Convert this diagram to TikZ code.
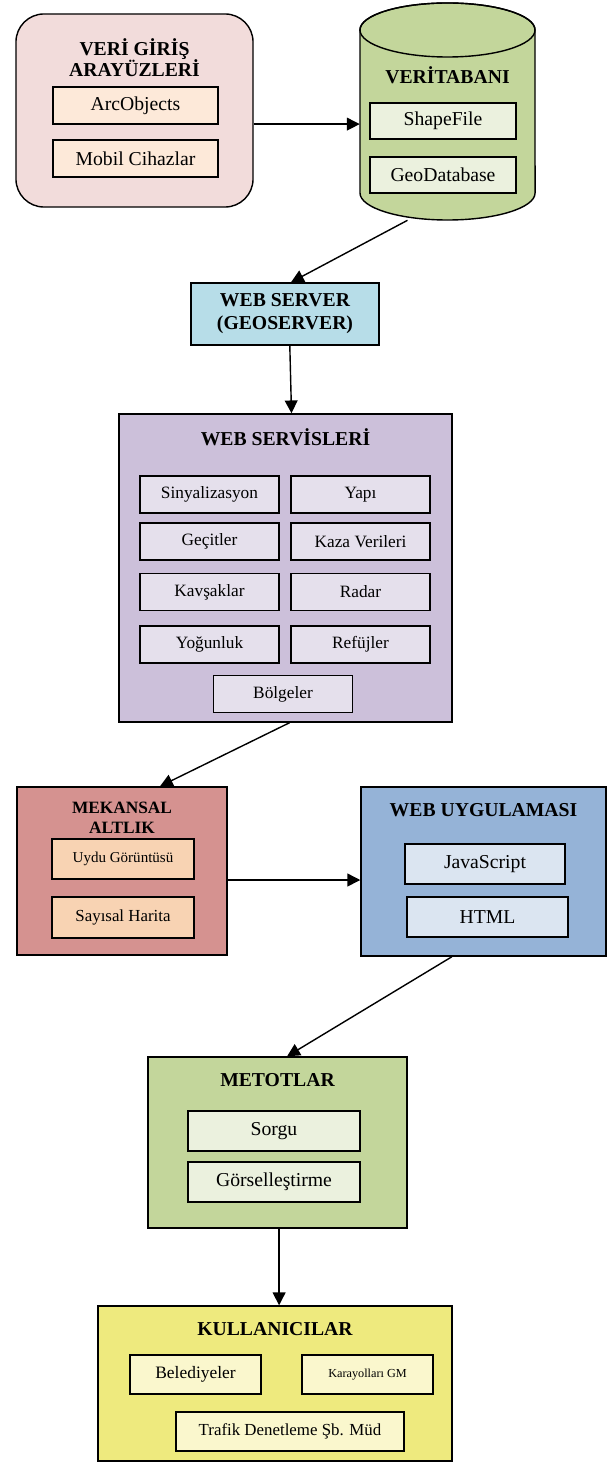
\documentclass[tikz,border=0pt]{standalone}
\usepackage{fontspec}
\setmainfont{Liberation Serif}
\usetikzlibrary{arrows.meta}

\definecolor{veripink}{HTML}{F2DCDB}
\definecolor{veripeach}{HTML}{FDE9D9}
\definecolor{dbgreen}{HTML}{C3D69B}
\definecolor{dblight}{HTML}{EBF1DE}
\definecolor{servblue}{HTML}{B7DDE8}
\definecolor{servlav}{HTML}{CCC0DA}
\definecolor{lavlight}{HTML}{E5E0EC}
\definecolor{mekrose}{HTML}{D59290}
\definecolor{mekpeach}{HTML}{F8D3B3}
\definecolor{appblue}{HTML}{95B3D7}
\definecolor{applight}{HTML}{DBE5F1}
\definecolor{kulyellow}{HTML}{EEEA7E}
\definecolor{kullight}{HTML}{FAF7CD}

\tikzset{
  mainbox/.style={draw, line width=1pt, rectangle, inner sep=0pt},
  subbox/.style={draw, line width=1pt, rectangle, inner sep=0pt, font=\fontsize{14}{16}\selectfont},
  boxtitle/.style={font=\fontsize{14}{15}\selectfont\bfseries, align=center, inner sep=0pt},
  arr/.style={line width=1pt, -{Triangle[length=0.32cm,width=0.32cm]}}
}

\begin{document}
\begin{tikzpicture}[x=0.025cm,y=-0.025cm]
\useasboundingbox (0,0) rectangle (608,1463);

% veri giris arayuzleri
\node[mainbox, fill=veripink, rounded corners=0.7cm, minimum width=5.925cm, minimum height=4.825cm] (veri) at (134.5,110.5) {};
\node[boxtitle] (veriT) at (134.5,57.5) {VERİ GİRİŞ\\ARAYÜZLERİ};
\node[subbox, fill=veripeach, minimum width=4.125cm, minimum height=0.925cm] (arcobj) at (135.5,105.5) {ArcObjects};
\node[subbox, fill=veripeach, minimum width=4.125cm, minimum height=0.925cm] (mobil) at (135.5,158.5) {Mobil Cihazlar};

% veritabani (cylinder)
\filldraw[fill=dbgreen, line width=1pt] (360,30) -- (360,193) arc[start angle=180, end angle=360, x radius=2.1875cm, y radius=0.675cm] -- (535,30) arc[start angle=0, end angle=180, x radius=2.1875cm, y radius=0.675cm] -- cycle;
\draw[line width=1pt] (447.5,30) ellipse [x radius=2.1875cm, y radius=0.675cm];
\node[minimum width=4.375cm, minimum height=5.425cm, inner sep=0pt] (db) at (447.5,111.5) {};
\node[boxtitle] (dbT) at (447.5,75) {VERİTABANI};
\node[subbox, fill=dblight, minimum width=3.65cm, minimum height=0.9cm] (shape) at (443,121) {ShapeFile};
\node[subbox, fill=dblight, minimum width=3.65cm, minimum height=0.9cm] (geodb) at (443,175) {GeoDatabase};

% web server
\node[mainbox, fill=servblue, minimum width=4.7cm, minimum height=1.55cm, font=\fontsize{14}{16.3}\selectfont\bfseries, align=center] (ws) at (285,314) {WEB SERVER\\(GEOSERVER)};

% web servisleri
\node[mainbox, fill=servlav, minimum width=8.325cm, minimum height=7.7cm] (wsv) at (285.5,568) {};
\node[boxtitle] (wsvT) at (285.5,437) {WEB SERVİSLERİ};
\begin{scope}[every node/.append style={subbox, fill=lavlight, minimum width=3.475cm, minimum height=0.925cm, font=\fontsize{12.3}{14}\selectfont}]
\node (sinyal) at (209.5,494.5) {Sinyalizasyon};
\node (yapi) at (360.5,494.5) {Yapı};
\node (gecit) at (209.5,541.5) {Geçitler};
\node (kaza) at (360.5,541.5) {Kaza Verileri};
\node (kavsak) at (209.5,592) {Kavşaklar};
\node (radar) at (360.5,592) {Radar};
\node (yogun) at (209.5,644.5) {Yoğunluk};
\node (refuj) at (360.5,644.5) {Refüjler};
\node (bolge) at (283,694) {Bölgeler};
\end{scope}

% mekansal altlik
\node[mainbox, fill=mekrose, minimum width=5.25cm, minimum height=4.2cm] (mek) at (122,871) {};
\node[boxtitle, font=\fontsize{12.3}{14.2}\selectfont\bfseries] (mekT) at (122,818) {MEKANSAL\\ALTLIK};
\node[subbox, fill=mekpeach, minimum width=3.55cm, minimum height=1.0cm, font=\fontsize{10.7}{12}\selectfont] (uydu) at (123,859) {Uydu Görüntüsü};
\node[subbox, fill=mekpeach, minimum width=3.55cm, minimum height=1.025cm, font=\fontsize{12}{14}\selectfont] (sayisal) at (123,917.5) {Sayısal Harita};

% web uygulamasi
\node[mainbox, fill=appblue, minimum width=6.125cm, minimum height=4.225cm] (wu) at (483.5,871.5) {};
\node[boxtitle] (wuT) at (483.5,810) {WEB UYGULAMASI};
\node[subbox, fill=applight, minimum width=4.0cm, minimum height=1.0cm] (js) at (485,864) {JavaScript};
\node[subbox, fill=applight, minimum width=4.025cm, minimum height=1.0cm] (html) at (487.5,917) {HTML};

% metotlar
\node[mainbox, fill=dbgreen, minimum width=6.475cm, minimum height=4.275cm] (met) at (277.5,1142.5) {};
\node[boxtitle] (metT) at (277.5,1080) {METOTLAR};
\node[subbox, fill=dblight, minimum width=4.3cm, minimum height=1.0cm] (sorgu) at (274,1131) {Sorgu};
\node[subbox, fill=dblight, minimum width=4.3cm, minimum height=1.0cm] (gorsel) at (274,1182) {Görselleştirme};

% kullanicilar
\node[mainbox, fill=kulyellow, minimum width=8.85cm, minimum height=3.875cm] (kul) at (275,1383.5) {};
\node[boxtitle] (kulT) at (275,1329) {KULLANICILAR};
\node[subbox, fill=kullight, minimum width=3.275cm, minimum height=0.975cm, font=\fontsize{12.4}{14}\selectfont] (beled) at (195.5,1374.5) {Belediyeler};
\node[subbox, fill=kullight, minimum width=3.275cm, minimum height=0.975cm, font=\fontsize{8.7}{10}\selectfont] (karay) at (367.5,1374.5) {Karayolları GM};
\node[subbox, fill=kullight, minimum width=5.7cm, minimum height=0.975cm, font=\fontsize{12}{14}\selectfont] (trafik) at (290,1431.5) {Trafik Denetleme Şb. Müd};

% connectors
\coordinate (vArrow) at ([yshift=-0.34cm]veri.east);
\draw[arr] (vArrow) -- (vArrow -| db.west);
\draw[arr] ([xshift=-1.0cm]db.south) -- ([xshift=0.15cm]ws.north);
\draw[arr] ([xshift=0.12cm]ws.south) -- ([xshift=0.15cm]wsv.north);
\draw[arr] ([xshift=0.1cm]wsv.south) -- ([xshift=0.95cm]mek.north);
\coordinate (mArrow) at ([yshift=-0.225cm]mek.east);
\draw[arr] (mArrow) -- (mArrow -| wu.west);
\draw[arr] ([xshift=-0.79cm]wu.south) -- ([xshift=0.24cm]met.north);
\coordinate (mtArrow) at ([xshift=0.04cm]met.south);
\draw[arr] (mtArrow) -- (mtArrow |- kul.north);

\end{tikzpicture}
\end{document}
